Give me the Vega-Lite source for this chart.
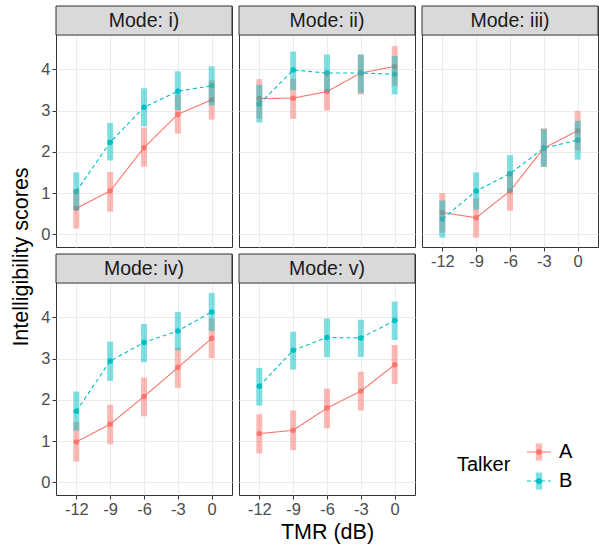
{
  "$schema": "https://vega.github.io/schema/vega-lite/v6.json",
  "background": "white",
  "padding": {"left": 10, "top": 5, "right": 0, "bottom": 0},
  "autosize": {"type": "pad"},
  "datasets": {
    "scores": [
      {"Mode": "i)", "TMR": -12, "Talker": "A", "score": 0.63, "lo": 0.14, "hi": 1.09},
      {"Mode": "i)", "TMR": -9, "Talker": "A", "score": 1.05, "lo": 0.55, "hi": 1.51},
      {"Mode": "i)", "TMR": -6, "Talker": "A", "score": 2.10, "lo": 1.64, "hi": 2.59},
      {"Mode": "i)", "TMR": -3, "Talker": "A", "score": 2.91, "lo": 2.44, "hi": 3.39},
      {"Mode": "i)", "TMR": 0, "Talker": "A", "score": 3.26, "lo": 2.78, "hi": 3.73},
      {"Mode": "i)", "TMR": -12, "Talker": "B", "score": 1.04, "lo": 0.58, "hi": 1.50},
      {"Mode": "i)", "TMR": -9, "Talker": "B", "score": 2.23, "lo": 1.79, "hi": 2.70},
      {"Mode": "i)", "TMR": -6, "Talker": "B", "score": 3.08, "lo": 2.62, "hi": 3.54},
      {"Mode": "i)", "TMR": -3, "Talker": "B", "score": 3.47, "lo": 3.01, "hi": 3.95},
      {"Mode": "i)", "TMR": 0, "Talker": "B", "score": 3.60, "lo": 3.12, "hi": 4.07},
      {"Mode": "ii)", "TMR": -12, "Talker": "A", "score": 3.29, "lo": 2.80, "hi": 3.76},
      {"Mode": "ii)", "TMR": -9, "Talker": "A", "score": 3.30, "lo": 2.80, "hi": 3.77},
      {"Mode": "ii)", "TMR": -6, "Talker": "A", "score": 3.46, "lo": 3.00, "hi": 3.94},
      {"Mode": "ii)", "TMR": -3, "Talker": "A", "score": 3.91, "lo": 3.39, "hi": 4.35},
      {"Mode": "ii)", "TMR": 0, "Talker": "A", "score": 4.07, "lo": 3.60, "hi": 4.56},
      {"Mode": "ii)", "TMR": -12, "Talker": "B", "score": 3.16, "lo": 2.71, "hi": 3.62},
      {"Mode": "ii)", "TMR": -9, "Talker": "B", "score": 3.98, "lo": 3.50, "hi": 4.43},
      {"Mode": "ii)", "TMR": -6, "Talker": "B", "score": 3.91, "lo": 3.45, "hi": 4.36},
      {"Mode": "ii)", "TMR": -3, "Talker": "B", "score": 3.91, "lo": 3.43, "hi": 4.36},
      {"Mode": "ii)", "TMR": 0, "Talker": "B", "score": 3.88, "lo": 3.39, "hi": 4.32},
      {"Mode": "iii)", "TMR": -12, "Talker": "A", "score": 0.53, "lo": 0.04, "hi": 1.00},
      {"Mode": "iii)", "TMR": -9, "Talker": "A", "score": 0.40, "lo": -0.08, "hi": 0.87},
      {"Mode": "iii)", "TMR": -6, "Talker": "A", "score": 1.05, "lo": 0.57, "hi": 1.52},
      {"Mode": "iii)", "TMR": -3, "Talker": "A", "score": 2.09, "lo": 1.63, "hi": 2.57},
      {"Mode": "iii)", "TMR": 0, "Talker": "A", "score": 2.51, "lo": 2.03, "hi": 2.99},
      {"Mode": "iii)", "TMR": -12, "Talker": "B", "score": 0.37, "lo": -0.08, "hi": 0.82},
      {"Mode": "iii)", "TMR": -9, "Talker": "B", "score": 1.05, "lo": 0.60, "hi": 1.50},
      {"Mode": "iii)", "TMR": -6, "Talker": "B", "score": 1.47, "lo": 1.01, "hi": 1.92},
      {"Mode": "iii)", "TMR": -3, "Talker": "B", "score": 2.09, "lo": 1.64, "hi": 2.55},
      {"Mode": "iii)", "TMR": 0, "Talker": "B", "score": 2.28, "lo": 1.81, "hi": 2.75},
      {"Mode": "iv)", "TMR": -12, "Talker": "A", "score": 0.98, "lo": 0.50, "hi": 1.46},
      {"Mode": "iv)", "TMR": -9, "Talker": "A", "score": 1.41, "lo": 0.92, "hi": 1.88},
      {"Mode": "iv)", "TMR": -6, "Talker": "A", "score": 2.08, "lo": 1.60, "hi": 2.54},
      {"Mode": "iv)", "TMR": -3, "Talker": "A", "score": 2.78, "lo": 2.29, "hi": 3.26},
      {"Mode": "iv)", "TMR": 0, "Talker": "A", "score": 3.49, "lo": 3.01, "hi": 3.97},
      {"Mode": "iv)", "TMR": -12, "Talker": "B", "score": 1.72, "lo": 1.25, "hi": 2.20},
      {"Mode": "iv)", "TMR": -9, "Talker": "B", "score": 2.94, "lo": 2.46, "hi": 3.41},
      {"Mode": "iv)", "TMR": -6, "Talker": "B", "score": 3.39, "lo": 2.91, "hi": 3.84},
      {"Mode": "iv)", "TMR": -3, "Talker": "B", "score": 3.67, "lo": 3.20, "hi": 4.13},
      {"Mode": "iv)", "TMR": 0, "Talker": "B", "score": 4.13, "lo": 3.67, "hi": 4.59},
      {"Mode": "v)", "TMR": -12, "Talker": "A", "score": 1.18, "lo": 0.70, "hi": 1.65},
      {"Mode": "v)", "TMR": -9, "Talker": "A", "score": 1.26, "lo": 0.78, "hi": 1.74},
      {"Mode": "v)", "TMR": -6, "Talker": "A", "score": 1.80, "lo": 1.31, "hi": 2.27},
      {"Mode": "v)", "TMR": -3, "Talker": "A", "score": 2.21, "lo": 1.74, "hi": 2.68},
      {"Mode": "v)", "TMR": 0, "Talker": "A", "score": 2.85, "lo": 2.38, "hi": 3.33},
      {"Mode": "v)", "TMR": -12, "Talker": "B", "score": 2.33, "lo": 1.86, "hi": 2.77},
      {"Mode": "v)", "TMR": -9, "Talker": "B", "score": 3.20, "lo": 2.73, "hi": 3.65},
      {"Mode": "v)", "TMR": -6, "Talker": "B", "score": 3.51, "lo": 3.03, "hi": 3.97},
      {"Mode": "v)", "TMR": -3, "Talker": "B", "score": 3.50, "lo": 3.04, "hi": 3.94},
      {"Mode": "v)", "TMR": 0, "Talker": "B", "score": 3.92, "lo": 3.45, "hi": 4.38}
    ]
  },
  "columns": 3,
  "bounds": "flush",
  "spacing": {"row": 7, "column": 7},
  "concat": [
    {
      "width": 176, "height": 241,
      "layer": [
        {
          "data": {"name": "scores"},
          "transform": [{"filter": "datum.Mode === 'i)'"}],
          "encoding": {
            "x": {"field": "TMR", "type": "ordinal", "sort": [-12, -9, -6, -3, 0], "scale": {"type": "point", "domain": [-12, -9, -6, -3, 0], "padding": 0.6}, "axis": {"labels": false, "ticks": false, "title": null, "grid": true}},
            "y": {"field": "score", "type": "quantitative", "scale": {"domain": [-0.308, 5.534], "nice": false, "zero": false}, "axis": {"values": [0, 0.5, 1, 1.5, 2, 2.5, 3, 3.5, 4, 4.5], "labelExpr": "datum.value % 1 === 0 ? format(datum.value, 'd') : ''", "tickOpacity": {"condition": {"test": "datum.value % 1 !== 0", "value": 0}, "value": 1}, "gridWidth": {"condition": {"test": "datum.value % 1 !== 0", "value": 0.55}, "value": 1.1}, "title": "Intelligibility scores", "titleY": 250.5, "titlePadding": 8}}
          },
          "layer": [
            {"mark": {"type": "line", "strokeWidth": 1.1}, "encoding": {"stroke": {"field": "Talker", "type": "nominal", "scale": {"domain": ["A", "B"], "range": ["#F8766D", "#00BFC4"]}, "legend": {"orient": "none", "legendX": 401, "legendY": 433, "title": "Talker", "titleOrient": "left", "titleAnchor": "middle", "titlePadding": 15, "symbolType": "stroke", "symbolSize": 576, "symbolStrokeWidth": 1.1, "labelOffset": 7, "rowPadding": 6}}, "strokeDash": {"field": "Talker", "type": "nominal", "scale": {"domain": ["A", "B"], "range": [[1, 0], [4, 3]]}, "legend": {"orient": "none", "legendX": 401, "legendY": 433, "title": "Talker", "titleOrient": "left", "titleAnchor": "middle", "titlePadding": 15, "symbolType": "stroke", "symbolSize": 576, "symbolStrokeWidth": 1.1, "labelOffset": 7, "rowPadding": 6}}}},
            {"mark": {"type": "circle", "size": 30, "opacity": 1}, "encoding": {"fill": {"field": "Talker", "type": "nominal", "scale": {"domain": {"unionWith": ["A"]}, "range": ["#F8766D", "#00BFC4"]}, "legend": {"orient": "none", "legendX": 401, "legendY": 433, "title": "Talker", "titleOrient": "left", "titleAnchor": "middle", "titlePadding": 15, "symbolType": "M-0.25,0A0.25,0.25 0 1,0 0.25,0A0.25,0.25 0 1,0 -0.25,0Z", "symbolSize": 576, "labelOffset": 7, "rowPadding": 6, "titleOpacity": 0, "labelOpacity": 0}}}},
            {"mark": {"type": "bar", "size": 6, "opacity": 0.5}, "encoding": {"y": {"field": "lo", "type": "quantitative"}, "y2": {"field": "hi"}, "color": {"field": "Talker", "type": "nominal", "scale": {"range": ["#F8766D", "#00BFC4"]}, "legend": {"orient": "none", "legendX": 401, "legendY": 433, "title": "Talker", "titleOrient": "left", "titleAnchor": "middle", "titlePadding": 15, "symbolType": "M-0.27,-0.71H0.27V0.71H-0.27Z", "symbolSize": 576, "symbolOpacity": 0.5, "labelOffset": 7, "rowPadding": 6, "titleOpacity": 0, "labelOpacity": 0}}}}
          ]
        },
        {
          "data": {"values": [{"label": "Mode: i)"}]},
          "layer": [
            {"mark": {"type": "rect", "fill": "#D9D9D9", "stroke": "#333333", "strokeWidth": 1}, "encoding": {"y": {"datum": 4.83, "type": "quantitative"}, "y2": {"datum": 5.534}}},
            {"mark": {"type": "text", "fontSize": 19.5, "fontWeight": "normal", "color": "#1A1A1A"}, "encoding": {"y": {"datum": 5.18, "type": "quantitative"}, "text": {"field": "label"}}}
          ]
        }
      ]
    },
    {
      "width": 176, "height": 241,
      "layer": [
        {
          "data": {"name": "scores"},
          "transform": [{"filter": "datum.Mode === 'ii)'"}],
          "encoding": {
            "x": {"field": "TMR", "type": "ordinal", "sort": [-12, -9, -6, -3, 0], "scale": {"type": "point", "domain": [-12, -9, -6, -3, 0], "padding": 0.6}, "axis": {"labels": false, "ticks": false, "title": null, "grid": true}},
            "y": {"field": "score", "type": "quantitative", "scale": {"domain": [-0.308, 5.534], "nice": false, "zero": false}, "axis": {"values": [0, 0.5, 1, 1.5, 2, 2.5, 3, 3.5, 4, 4.5], "labels": false, "ticks": false, "gridWidth": {"condition": {"test": "datum.value % 1 !== 0", "value": 0.55}, "value": 1.1}, "title": null}}
          },
          "layer": [
            {"mark": {"type": "line", "strokeWidth": 1.1}, "encoding": {"stroke": {"field": "Talker", "type": "nominal", "scale": {"domain": ["A", "B"], "range": ["#F8766D", "#00BFC4"]}}, "strokeDash": {"field": "Talker", "type": "nominal", "scale": {"domain": ["A", "B"], "range": [[1, 0], [4, 3]]}}}},
            {"mark": {"type": "circle", "size": 30, "opacity": 1}, "encoding": {"fill": {"field": "Talker", "type": "nominal"}}},
            {"mark": {"type": "bar", "size": 6, "opacity": 0.5}, "encoding": {"y": {"field": "lo", "type": "quantitative"}, "y2": {"field": "hi"}, "color": {"field": "Talker", "type": "nominal"}}}
          ]
        },
        {
          "data": {"values": [{"label": "Mode: ii)"}]},
          "layer": [
            {"mark": {"type": "rect", "fill": "#D9D9D9", "stroke": "#333333", "strokeWidth": 1}, "encoding": {"y": {"datum": 4.83, "type": "quantitative"}, "y2": {"datum": 5.534}}},
            {"mark": {"type": "text", "fontSize": 19.5, "fontWeight": "normal", "color": "#1A1A1A"}, "encoding": {"y": {"datum": 5.18, "type": "quantitative"}, "text": {"field": "label"}}}
          ]
        }
      ]
    },
    {
      "width": 176, "height": 241,
      "layer": [
        {
          "data": {"name": "scores"},
          "transform": [{"filter": "datum.Mode === 'iii)'"}],
          "encoding": {
            "x": {"field": "TMR", "type": "ordinal", "sort": [-12, -9, -6, -3, 0], "scale": {"type": "point", "domain": [-12, -9, -6, -3, 0], "padding": 0.6}, "axis": {"title": null, "grid": true, "labelAngle": 0}},
            "y": {"field": "score", "type": "quantitative", "scale": {"domain": [-0.308, 5.534], "nice": false, "zero": false}, "axis": {"values": [0, 0.5, 1, 1.5, 2, 2.5, 3, 3.5, 4, 4.5], "labels": false, "ticks": false, "gridWidth": {"condition": {"test": "datum.value % 1 !== 0", "value": 0.55}, "value": 1.1}, "title": null}}
          },
          "layer": [
            {"mark": {"type": "line", "strokeWidth": 1.1}, "encoding": {"stroke": {"field": "Talker", "type": "nominal", "scale": {"domain": ["A", "B"], "range": ["#F8766D", "#00BFC4"]}}, "strokeDash": {"field": "Talker", "type": "nominal", "scale": {"domain": ["A", "B"], "range": [[1, 0], [4, 3]]}}}},
            {"mark": {"type": "circle", "size": 30, "opacity": 1}, "encoding": {"fill": {"field": "Talker", "type": "nominal"}}},
            {"mark": {"type": "bar", "size": 6, "opacity": 0.5}, "encoding": {"y": {"field": "lo", "type": "quantitative"}, "y2": {"field": "hi"}, "color": {"field": "Talker", "type": "nominal"}}}
          ]
        },
        {
          "data": {"values": [{"label": "Mode: iii)"}]},
          "layer": [
            {"mark": {"type": "rect", "fill": "#D9D9D9", "stroke": "#333333", "strokeWidth": 1}, "encoding": {"y": {"datum": 4.83, "type": "quantitative"}, "y2": {"datum": 5.534}}},
            {"mark": {"type": "text", "fontSize": 19.5, "fontWeight": "normal", "color": "#1A1A1A"}, "encoding": {"y": {"datum": 5.18, "type": "quantitative"}, "text": {"field": "label"}}}
          ]
        }
      ]
    },
    {
      "width": 176, "height": 241,
      "layer": [
        {
          "data": {"name": "scores"},
          "transform": [{"filter": "datum.Mode === 'iv)'"}],
          "encoding": {
            "x": {"field": "TMR", "type": "ordinal", "sort": [-12, -9, -6, -3, 0], "scale": {"type": "point", "domain": [-12, -9, -6, -3, 0], "padding": 0.6}, "axis": {"title": null, "grid": true, "labelAngle": 0}},
            "y": {"field": "score", "type": "quantitative", "scale": {"domain": [-0.308, 5.534], "nice": false, "zero": false}, "axis": {"values": [0, 0.5, 1, 1.5, 2, 2.5, 3, 3.5, 4, 4.5], "labelExpr": "datum.value % 1 === 0 ? format(datum.value, 'd') : ''", "tickOpacity": {"condition": {"test": "datum.value % 1 !== 0", "value": 0}, "value": 1}, "gridWidth": {"condition": {"test": "datum.value % 1 !== 0", "value": 0.55}, "value": 1.1}, "title": null}}
          },
          "layer": [
            {"mark": {"type": "line", "strokeWidth": 1.1}, "encoding": {"stroke": {"field": "Talker", "type": "nominal", "scale": {"domain": ["A", "B"], "range": ["#F8766D", "#00BFC4"]}}, "strokeDash": {"field": "Talker", "type": "nominal", "scale": {"domain": ["A", "B"], "range": [[1, 0], [4, 3]]}}}},
            {"mark": {"type": "circle", "size": 30, "opacity": 1}, "encoding": {"fill": {"field": "Talker", "type": "nominal"}}},
            {"mark": {"type": "bar", "size": 6, "opacity": 0.5}, "encoding": {"y": {"field": "lo", "type": "quantitative"}, "y2": {"field": "hi"}, "color": {"field": "Talker", "type": "nominal"}}}
          ]
        },
        {
          "data": {"values": [{"label": "Mode: iv)"}]},
          "layer": [
            {"mark": {"type": "rect", "fill": "#D9D9D9", "stroke": "#333333", "strokeWidth": 1}, "encoding": {"y": {"datum": 4.83, "type": "quantitative"}, "y2": {"datum": 5.534}}},
            {"mark": {"type": "text", "fontSize": 19.5, "fontWeight": "normal", "color": "#1A1A1A"}, "encoding": {"y": {"datum": 5.18, "type": "quantitative"}, "text": {"field": "label"}}}
          ]
        }
      ]
    },
    {
      "width": 176, "height": 241,
      "layer": [
        {
          "data": {"name": "scores"},
          "transform": [{"filter": "datum.Mode === 'v)'"}],
          "encoding": {
            "x": {"field": "TMR", "type": "ordinal", "sort": [-12, -9, -6, -3, 0], "scale": {"type": "point", "domain": [-12, -9, -6, -3, 0], "padding": 0.6}, "axis": {"title": "TMR (dB)", "grid": true, "labelAngle": 0}},
            "y": {"field": "score", "type": "quantitative", "scale": {"domain": [-0.308, 5.534], "nice": false, "zero": false}, "axis": {"values": [0, 0.5, 1, 1.5, 2, 2.5, 3, 3.5, 4, 4.5], "labels": false, "ticks": false, "gridWidth": {"condition": {"test": "datum.value % 1 !== 0", "value": 0.55}, "value": 1.1}, "title": null}}
          },
          "layer": [
            {"mark": {"type": "line", "strokeWidth": 1.1}, "encoding": {"stroke": {"field": "Talker", "type": "nominal", "scale": {"domain": ["A", "B"], "range": ["#F8766D", "#00BFC4"]}}, "strokeDash": {"field": "Talker", "type": "nominal", "scale": {"domain": ["A", "B"], "range": [[1, 0], [4, 3]]}}}},
            {"mark": {"type": "circle", "size": 30, "opacity": 1}, "encoding": {"fill": {"field": "Talker", "type": "nominal"}}},
            {"mark": {"type": "bar", "size": 6, "opacity": 0.5}, "encoding": {"y": {"field": "lo", "type": "quantitative"}, "y2": {"field": "hi"}, "color": {"field": "Talker", "type": "nominal"}}}
          ]
        },
        {
          "data": {"values": [{"label": "Mode: v)"}]},
          "layer": [
            {"mark": {"type": "rect", "fill": "#D9D9D9", "stroke": "#333333", "strokeWidth": 1}, "encoding": {"y": {"datum": 4.83, "type": "quantitative"}, "y2": {"datum": 5.534}}},
            {"mark": {"type": "text", "fontSize": 19.5, "fontWeight": "normal", "color": "#1A1A1A"}, "encoding": {"y": {"datum": 5.18, "type": "quantitative"}, "text": {"field": "label"}}}
          ]
        }
      ]
    }
  ],
  "config": {
    "font": "Liberation Sans",
    "view": {"stroke": "#333333", "strokeWidth": 1},
    "axis": {"domain": false, "labelFontSize": 16.5, "labelColor": "#4D4D4D", "labelPadding": 2, "tickColor": "#333333", "tickSize": 4, "tickWidth": 1, "gridColor": "#EBEBEB", "titleFontSize": 21.5, "titleFontWeight": "normal", "titleColor": "#000000"},
    "legend": {"titleFontSize": 20, "titleFontWeight": "normal", "titleColor": "#000000", "labelFontSize": 20, "labelColor": "#000000"}
  }
}
